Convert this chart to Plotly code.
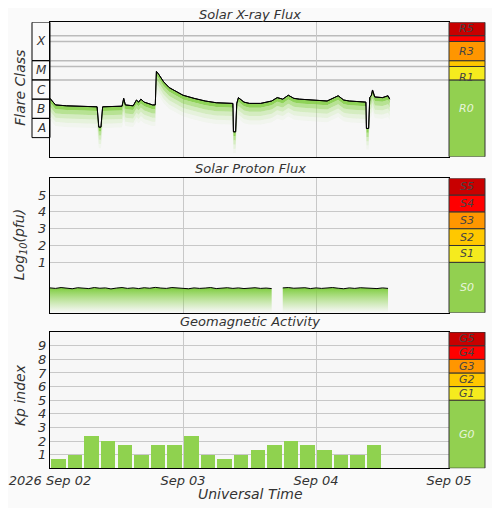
import math
import plotly.graph_objects as go
from datetime import datetime, timedelta

t0 = datetime(2026, 9, 2)

# X-ray flux (W/m^2), hours since 2026-09-02 00:00 UT
xray_hours = [0, 1, 3, 6, 8.5, 8.8, 9.2, 9.5, 12, 13, 13.3, 13.6, 15, 15.6, 16, 16.4, 17, 18.5, 19,
              19.2, 19.6, 20.5, 21.5, 23, 24, 26, 28, 30, 32, 33, 33.1, 33.5, 33.7, 34, 35, 36, 38,
              40, 41, 42, 43, 44, 45, 47, 48, 50, 52, 53, 54, 56, 57, 57.1, 57.5, 57.7, 58, 58.2,
              58.6, 60, 61, 61.3]
xray_flux = [1.1e-6, 5e-7, 4.5e-7, 4.2e-7, 4e-7, 3.5e-8, 3.5e-8, 4e-7, 4e-7, 4.3e-7, 1.1e-6, 5e-7,
             4.5e-7, 9e-7, 7e-7, 1e-6, 7e-7, 5e-7, 5e-7,
             2.8e-5, 2e-5, 8e-6, 4e-6, 2.2e-6, 1.6e-6, 1.1e-6, 8e-7, 6.5e-7, 6e-7, 6e-7, 2e-8, 2e-8,
             6e-7, 1.2e-6, 7e-7, 6e-7, 6e-7,
             8e-7, 1.2e-6, 1e-6, 1.6e-6, 1.1e-6, 1e-6, 9e-7, 9e-7, 8e-7, 1.5e-6, 9e-7, 8e-7, 7e-7,
             7e-7, 3e-8, 3e-8, 1.2e-6, 1.6e-6, 3e-6, 1.3e-6, 1.2e-6, 1.5e-6, 1e-6]

# Proton flux, log10(pfu), hourly, two segments (data gap near hour 41)
proton_hours_a = list(range(0, 41))
proton_log_a = [-0.52, -0.55, -0.5, -0.54, -0.57, -0.51, -0.53, -0.56, -0.5, -0.54, -0.52, -0.58,
                -0.53, -0.5, -0.55, -0.52, -0.56, -0.51, -0.54, -0.49, -0.53, -0.55, -0.5, -0.52,
                -0.54, -0.57, -0.52, -0.55, -0.53, -0.5, -0.56, -0.53, -0.51, -0.55, -0.52, -0.56,
                -0.54, -0.51, -0.55, -0.53, -0.56]
proton_hours_b = list(range(42, 62))
proton_log_b = [-0.52, -0.5, -0.54, -0.53, -0.51, -0.56, -0.52, -0.55, -0.53, -0.5, -0.54, -0.57,
                -0.52, -0.55, -0.51, -0.54, -0.53, -0.56, -0.52, -0.55]

# Kp index, 3-hour intervals
kp_hours = list(range(0, 60, 3))
kp_values = [0.67, 1, 2.33, 2, 1.67, 1, 1.67, 1.67, 2.33, 1, 0.67, 1, 1.33, 1.67, 2, 1.67, 1.33,
             1, 1, 1.67]

# NOAA scales
r_bounds = [1e-9, 1e-5, 5e-5, 1e-4, 1e-3, 2e-3, 1e-2]
r_labels = ["R0", "R1", "", "R3", "", "R5"]
s_bounds = [-2, 1, 2, 3, 4, 5, 6]
s_labels = ["S0", "S1", "S2", "S3", "S4", "S5"]
g_bounds = [0, 5, 6, 7, 8, 9, 10]
g_labels = ["G0", "G1", "G2", "G3", "G4", "G5"]
scale_colors = ["#92d050", "#f5eb1e", "#ffc800", "#ff9600", "#ff0000", "#c80000"]
label_colors = ["#e8f5dc", "#444", "#444", "#444", "#444", "#444"]
flare_bounds = [1e-8, 1e-7, 1e-6, 1e-5, 1e-4, 1e-2]
flare_labels = ["A", "B", "C", "M", "X"]

FONT = "DejaVu Sans"
ts = lambda h: t0 + timedelta(hours=h)
xr = [ts(h) for h in xray_hours]

fig = go.Figure()

# x-ray line with fading green bands beneath
fig.add_trace(go.Scatter(x=xr, y=xray_flux, mode="lines", line=dict(color="black", width=1),
                         xaxis="x", yaxis="y"))
for k, col in enumerate(["rgba(124,204,60,0.85)", "rgba(140,212,80,0.6)",
                         "rgba(160,220,110,0.4)", "rgba(180,226,140,0.25)",
                         "rgba(200,234,170,0.12)"]):
    low = [v / 10 ** (0.22 * (k + 1)) for v in xray_flux]
    fig.add_trace(go.Scatter(x=xr, y=low, mode="lines", line=dict(width=0), fill="tonexty",
                             fillcolor=col, xaxis="x", yaxis="y"))
fig.add_trace(go.Scatter(x=xr, y=xray_flux, mode="lines", line=dict(color="black", width=1),
                         xaxis="x", yaxis="y"))

# proton
for hrs, vals in [(proton_hours_a, proton_log_a), (proton_hours_b, proton_log_b)]:
    px_ = [ts(h) for h in hrs]
    fig.add_trace(go.Scatter(x=px_, y=[-2] * len(px_), mode="lines", line=dict(width=0),
                             xaxis="x2", yaxis="y2"))
    fig.add_trace(go.Scatter(x=px_, y=vals, mode="lines", line=dict(color="black", width=1),
                             fill="tonexty",
                             fillgradient=dict(type="vertical", start=-2, stop=-0.5,
                                               colorscale=[[0, "rgba(150,215,90,0)"],
                                                           [1, "rgba(124,204,60,1)"]]),
                             xaxis="x2", yaxis="y2"))

# kp bars
fig.add_trace(go.Bar(x=[ts(h + 1.5) for h in kp_hours], y=kp_values, width=2.6 * 3600 * 1000,
                     marker=dict(color="#8fd24f", line=dict(width=0)), xaxis="x3", yaxis="y3"))

XD = [0.084, 0.882]
SB = [0.882, 0.954]
shapes = []
annots = []


def label(text, xref, yref, x, y, size, color="#333", angle=0):
    annots.append(dict(text=text, xref=xref, yref=yref, x=x, y=y, showarrow=False,
                       xanchor="center", yanchor="middle", textangle=angle,
                       font=dict(family=FONT, size=size, style="italic", color=color)))


def scale_bar(bounds, labels, yref):
    for i, lab in enumerate(labels):
        shapes.append(dict(type="rect", xref="paper", yref=yref, x0=SB[0], x1=SB[1],
                           y0=bounds[i], y1=bounds[i + 1], fillcolor=scale_colors[i],
                           line=dict(color="#333", width=1), layer="above"))


scale_bar(r_bounds, r_labels, "y")
scale_bar(s_bounds, s_labels, "y2")
scale_bar(g_bounds, g_labels, "y3")

SX = (SB[0] + SB[1]) / 2
r_pos = [-6.5, -4.85, None, -3.5, None, -2.35]
for lab, yy, c in zip(r_labels, r_pos, label_colors):
    if lab:
        label(lab, "paper", "y", SX, yy, 11, c)
for i, lab in enumerate(s_labels):
    yy = -0.5 if i == 0 else (s_bounds[i] + s_bounds[i + 1]) / 2
    label(lab, "paper", "y2", SX, yy, 11, label_colors[i])
for i, lab in enumerate(g_labels):
    yy = 2.5 if i == 0 else (g_bounds[i] + g_bounds[i + 1]) / 2
    label(lab, "paper", "y3", SX, yy, 11, label_colors[i])

# x-ray threshold lines
for b in r_bounds[1:-1]:
    shapes.append(dict(type="line", xref="x", yref="y", x0=t0, x1=ts(72), y0=b, y1=b,
                       line=dict(color="#bbb", width=1.5), layer="below"))

# flare class boxes
for i, lab in enumerate(flare_labels):
    shapes.append(dict(type="rect", xref="paper", yref="y", x0=0.048, x1=XD[0],
                       y0=flare_bounds[i], y1=flare_bounds[i + 1], line=dict(color="black", width=1)))
    yy = math.log10(flare_bounds[i]) + 0.5 if lab != "X" else -3.0
    label(lab, "paper", "y", 0.066, yy, 12)

# panel titles and axis titles
for text, yy in [("Solar X-ray Flux", 0.987), ("Solar Proton Flux", 0.685),
                 ("Geomagnetic Activity", 0.382)]:
    label(text, "paper", "paper", 0.484, yy, 13)
for text, yy in [("Flare Class", 0.843), ("Log<sub>10</sub>(pfu)", 0.533), ("Kp index", 0.238)]:
    label(text, "paper", "paper", 0.024, yy, 14, angle=-90)
label("Universal Time", "paper", "paper", 0.484, 0.043, 14)

tickvals = [t0, ts(24), ts(48), ts(72)]
xcommon = dict(type="date", range=[t0, ts(72)], domain=XD, showgrid=True,
               gridcolor="#c8c8c8", tickvals=tickvals, showline=True, linecolor="black",
               mirror=True, zeroline=False, automargin=False)
ycommon = dict(showline=True, linecolor="black", mirror=True, zeroline=False, automargin=False,
               tickfont=dict(family=FONT, size=13, style="italic", color="#333"))

fig.update_layout(
    width=500, height=508, margin=dict(l=0, r=0, t=0, b=0),
    paper_bgcolor="#fafafa", plot_bgcolor="#f7f7f7", showlegend=False, bargap=0,
    xaxis=dict(**xcommon, anchor="y", showticklabels=False),
    xaxis2=dict(**xcommon, anchor="y2", showticklabels=False),
    xaxis3=dict(**xcommon, anchor="y3", ticktext=["2026 Sep 02", "Sep 03", "Sep 04", "Sep 05"],
                tickfont=dict(family=FONT, size=13, style="italic", color="#333")),
    yaxis=dict(**ycommon, type="log", range=[-9, -2], domain=[0.707, 0.972], showgrid=False,
               showticklabels=False),
    yaxis2=dict(**ycommon, range=[-2, 6], domain=[0.400, 0.665], tickvals=[1, 2, 3, 4, 5],
                gridcolor="#c8c8c8"),
    yaxis3=dict(**ycommon, range=[0, 10], domain=[0.094, 0.362], tickvals=list(range(1, 10)),
                gridcolor="#c8c8c8"),
    shapes=shapes, annotations=annots,
)

fig.write_html("out.html")
